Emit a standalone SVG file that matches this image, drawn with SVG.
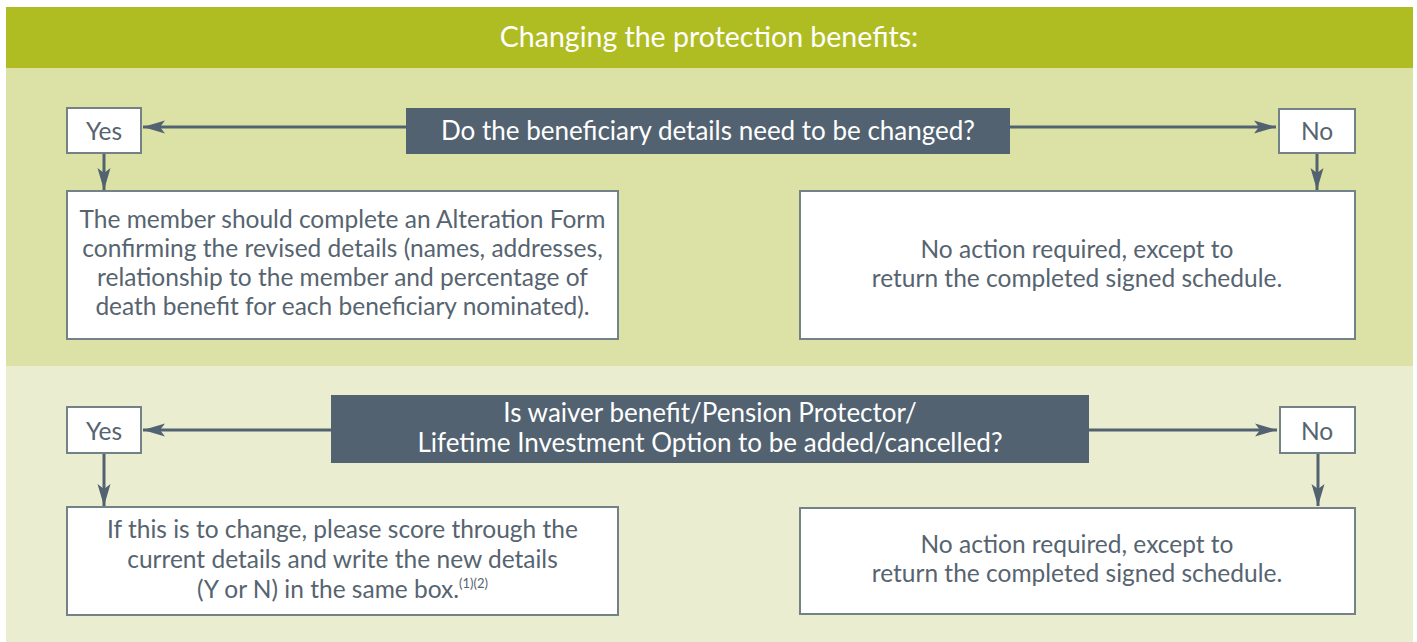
<svg xmlns="http://www.w3.org/2000/svg" width="1417" height="642" viewBox="0 0 1417 642">
<defs>
<style>
.box{fill:#ffffff;stroke:#728287;stroke-width:2}
.q{fill:#526270}
.t{font-family:Lato,"Open Sans","Liberation Sans",sans-serif;fill:#566470;text-anchor:middle;font-size:24.5px}
.w{font-family:Lato,"Open Sans","Liberation Sans",sans-serif;fill:#ffffff;text-anchor:middle}
.c{stroke:#526270;stroke-width:3;fill:none;marker-end:url(#ah)}
</style>
<marker id="ah" markerUnits="userSpaceOnUse" markerWidth="24" markerHeight="14" refX="22" refY="7" orient="auto" viewBox="0 0 24 14">
<path d="M0,0.5 L22,7 L0,13.5 L5,7 z" fill="#526270"/>
</marker>
</defs>
<rect x="6" y="7" width="1407" height="61" fill="#afbd22"/>
<rect x="6" y="68" width="1407" height="298" fill="#dce2a6"/>
<rect x="6" y="366" width="1407" height="276" fill="#eaedcf"/>
<g id="title"><text class="w" x="709" y="47" font-size="28.5">Changing the protection benefits:</text></g>

<g id="connectors">
<line class="c" x1="406" y1="127" x2="143" y2="127"/>
<line class="c" x1="1010" y1="127" x2="1276" y2="127"/>
<line class="c" x1="104" y1="153" x2="104" y2="190"/>
<line class="c" x1="1317" y1="153" x2="1317" y2="190"/>
<line class="c" x1="331" y1="430" x2="143" y2="430"/>
<line class="c" x1="1089" y1="430" x2="1277" y2="430"/>
<line class="c" x1="104" y1="453" x2="104" y2="506"/>
<line class="c" x1="1318" y1="453" x2="1318" y2="506"/>
</g>

<g id="q1"><rect class="q" x="406" y="108" width="604" height="46"/><text class="w" x="708" y="140" font-size="26">Do the beneficiary details need to be changed?</text></g>
<g id="yes1"><rect class="box" x="67" y="108" width="74" height="45"/><text class="t" x="104" y="140">Yes</text></g>
<g id="no1"><rect class="box" x="1279" y="109" width="76" height="44"/><text class="t" x="1317" y="140">No</text></g>
<g id="d1"><rect class="box" x="67" y="191" width="551" height="148"/>
<text class="t"><tspan x="342.5" y="228">The member should complete an Alteration Form</tspan><tspan x="342.5" y="257">confirming the revised details (names, addresses,</tspan><tspan x="342.5" y="286">relationship to the member and percentage of</tspan><tspan x="342.5" y="315">death benefit for each beneficiary nominated).</tspan></text></g>
<g id="d2"><rect class="box" x="800" y="191" width="555" height="148"/>
<text class="t"><tspan x="1077" y="258">No action required, except to</tspan><tspan x="1077" y="287">return the completed signed schedule.</tspan></text></g>

<g id="q2"><rect class="q" x="331" y="395" width="758" height="68"/><text class="w" font-size="26"><tspan x="710" y="422">Is waiver benefit/Pension Protector/</tspan><tspan x="710" y="452">Lifetime Investment Option to be added/cancelled?</tspan></text></g>
<g id="yes2"><rect class="box" x="67" y="407" width="74" height="46"/><text class="t" x="104" y="440">Yes</text></g>
<g id="no2"><rect class="box" x="1280" y="407" width="75" height="46"/><text class="t" x="1317" y="440">No</text></g>
<g id="d3"><rect class="box" x="67" y="507" width="551" height="108"/>
<text class="t"><tspan x="342.5" y="538">If this is to change, please score through the</tspan><tspan x="342.5" y="568">current details and write the new details</tspan><tspan x="342.5" y="598">(Y or N) in the same box.<tspan font-size="13" dy="-10">(1)(2)</tspan></tspan></text></g>
<g id="d4"><rect class="box" x="800" y="508" width="555" height="106"/>
<text class="t"><tspan x="1077" y="553">No action required, except to</tspan><tspan x="1077" y="582">return the completed signed schedule.</tspan></text></g>
</svg>
